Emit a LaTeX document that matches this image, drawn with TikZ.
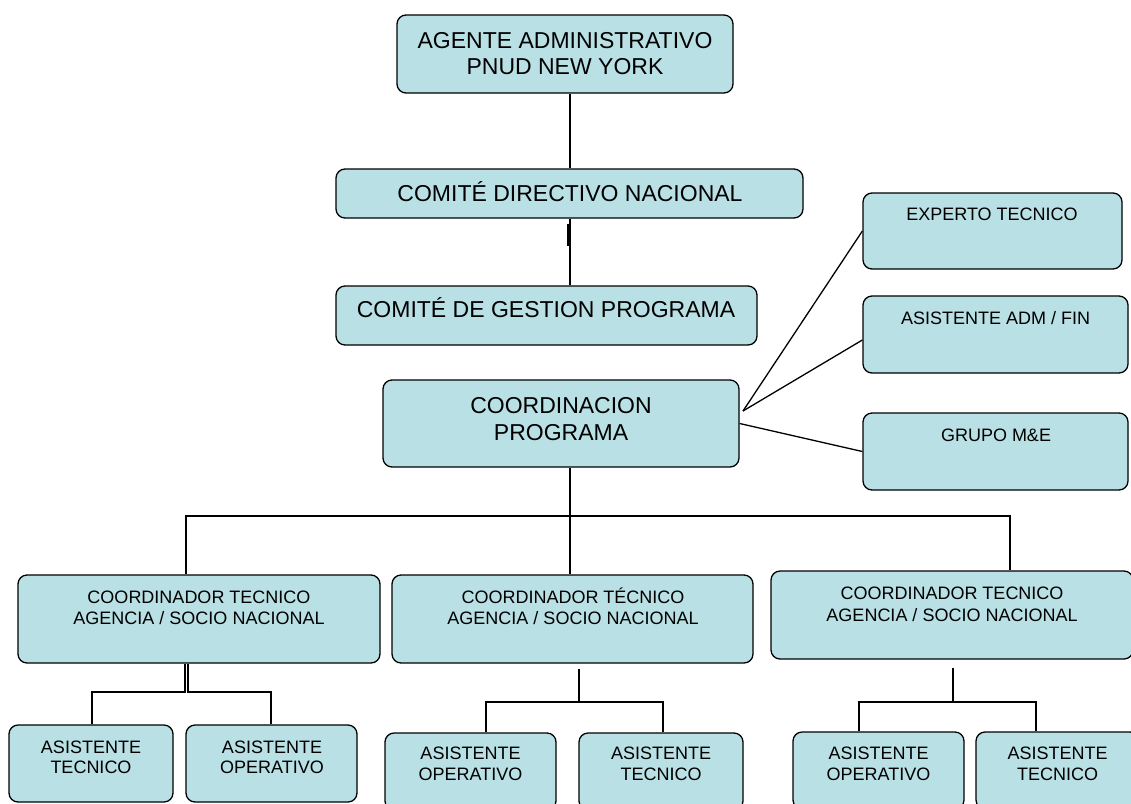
\documentclass[tikz,border=0pt]{standalone}
\usepackage{fontspec}
\setmainfont{Liberation Sans}
\definecolor{boxfill}{RGB}{185,224,228}
\begin{document}
\begin{tikzpicture}[x=1pt,y=-1pt,
  box/.style={draw=black, line width=1.3pt, fill=boxfill, rounded corners=9pt, inner sep=0pt},
  big/.style={font=\fontsize{23}{26}\selectfont, anchor=base, inner sep=0pt},
  small/.style={font=\fontsize{18}{21}\selectfont, anchor=base, inner sep=0pt},
  conn/.style={line width=1.3pt},
  thick conn/.style={line width=2.4pt}]
\useasboundingbox (0,0) rectangle (1131,803);
\clip (0,0) rectangle (1131,803);

% ---- boxes
\node[box, minimum width=336pt, minimum height=78pt] (b1) at (565,54) {};
\node[box, minimum width=467pt, minimum height=49pt] (b2) at (569.5,193.5) {};
\node[box, minimum width=421pt, minimum height=59pt] (b3) at (546.5,315.5) {};
\node[box, minimum width=356pt, minimum height=87pt] (b4) at (561,423.5) {};
\node[box, minimum width=259pt, minimum height=76pt] (e1) at (992.5,231) {};
\node[box, minimum width=265pt, minimum height=77pt] (e2) at (995.5,334.5) {};
\node[box, minimum width=265pt, minimum height=77pt] (e3) at (995.5,451.5) {};
\node[box, minimum width=362pt, minimum height=88pt] (cL) at (199,619) {};
\node[box, minimum width=361pt, minimum height=88pt] (cM) at (572.5,619) {};
\node[box, minimum width=362pt, minimum height=88pt] (cR) at (952,615) {};
\node[box, minimum width=164pt, minimum height=77pt] (aL1) at (91,763.5) {};
\node[box, minimum width=171pt, minimum height=77pt] (aL2) at (271.5,763.5) {};
\node[box, minimum width=171pt, minimum height=77pt] (aM1) at (470.5,771.5) {};
\node[box, minimum width=164pt, minimum height=77pt] (aM2) at (661,771.5) {};
\node[box, minimum width=171pt, minimum height=77pt] (aR1) at (878.5,770.5) {};
\node[box, minimum width=163pt, minimum height=77pt] (aR2) at (1057.5,770.5) {};

% ---- texts
\node[big] (t1a) at (565,48) {AGENTE ADMINISTRATIVO};
\node[big] (t1b) at (565,74) {PNUD NEW YORK};
\node[big] (t2) at (570,201) {COMITÉ DIRECTIVO NACIONAL};
\node[big] (t3) at (546,317) {COMITÉ DE GESTION PROGRAMA};
\node[big] (t4a) at (561,413) {COORDINACION};
\node[big] (t4b) at (561,440) {PROGRAMA};
\node[small] (te1) at (992,220) {EXPERTO TECNICO};
\node[small] (te2) at (995.5,324) {ASISTENTE ADM / FIN};
\node[small] (te3) at (996,441) {GRUPO M\&E};
\node[small] (tcLa) at (199,603) {COORDINADOR TECNICO};
\node[small] (tcLb) at (199,624) {AGENCIA / SOCIO NACIONAL};
\node[small] (tcMa) at (573,603) {COORDINADOR TÉCNICO};
\node[small] (tcMb) at (573,624) {AGENCIA / SOCIO NACIONAL};
\node[small] (tcRa) at (952,599) {COORDINADOR TECNICO};
\node[small] (tcRb) at (952,621) {AGENCIA / SOCIO NACIONAL};
\node[small] (taL1a) at (91,753) {ASISTENTE};
\node[small] (taL1b) at (91,773) {TECNICO};
\node[small] (taL2a) at (272,753) {ASISTENTE};
\node[small] (taL2b) at (272,773) {OPERATIVO};
\node[small] (taM1a) at (470.5,759) {ASISTENTE};
\node[small] (taM1b) at (470.5,780) {OPERATIVO};
\node[small] (taM2a) at (661,759) {ASISTENTE};
\node[small] (taM2b) at (661,780) {TECNICO};
\node[small] (taR1a) at (878.5,759) {ASISTENTE};
\node[small] (taR1b) at (878.5,780) {OPERATIVO};
\node[small] (taR2a) at (1057.5,759) {ASISTENTE};
\node[small] (taR2b) at (1057.5,780) {TECNICO};

% ---- connectors
\coordinate (k1) at (570,0);
\coordinate (k0) at (568,0);
\draw[conn] (b1.south -| k1) -- (b2.north -| k1);
\draw[conn] (b2.south -| k1) -- (b3.north -| k1);
\draw[line width=1.8pt] ([yshift=-5pt]b2.south -| k0) -- ([yshift=-27pt]b2.south -| k0);

\coordinate (fan) at (743,411);
\draw[conn] (fan) -- (e1.west);
\draw[conn] (fan) -- ([yshift=-5.5pt]e2.west);
\draw[conn] (b4.east) -- (e3.west);

\coordinate (busL) at (186,516);
\coordinate (busM) at (570,516);
\coordinate (busR) at (1010,516);
\draw[conn] (busM |- b4.south) -- (busM |- cM.north);
\draw[conn] (busL |- cL.north) -- (busL) -- (busR) -- (busR |- cR.north);

\coordinate (xa) at (185,692);
\coordinate (xb) at (188,692);
\coordinate (lL) at (92,692);
\coordinate (lR) at (271,692);
\draw[conn] (xa |- cL.south) -- (xa) -- (lL) -- (lL |- aL1.north);
\draw[conn] (xb |- cL.south) -- (xb) -- (lR) -- (lR |- aL2.north);

\coordinate (mT) at (579,702);
\coordinate (mL) at (486,702);
\coordinate (mR) at (663,702);
\draw[thick conn] ([yshift=-5pt]mT |- cM.south) -- (mT);
\draw[conn] (mL |- aM1.north) -- (mL) -- (mR) -- (mR |- aM2.north);

\coordinate (rT) at (953,702);
\coordinate (rL) at (859,702);
\coordinate (rR) at (1036,702);
\draw[thick conn] ([yshift=-8pt]rT |- cR.south) -- (rT);
\draw[conn] (rL |- aR1.north) -- (rL) -- (rR) -- (rR |- aR2.north);
\end{tikzpicture}
\end{document}
